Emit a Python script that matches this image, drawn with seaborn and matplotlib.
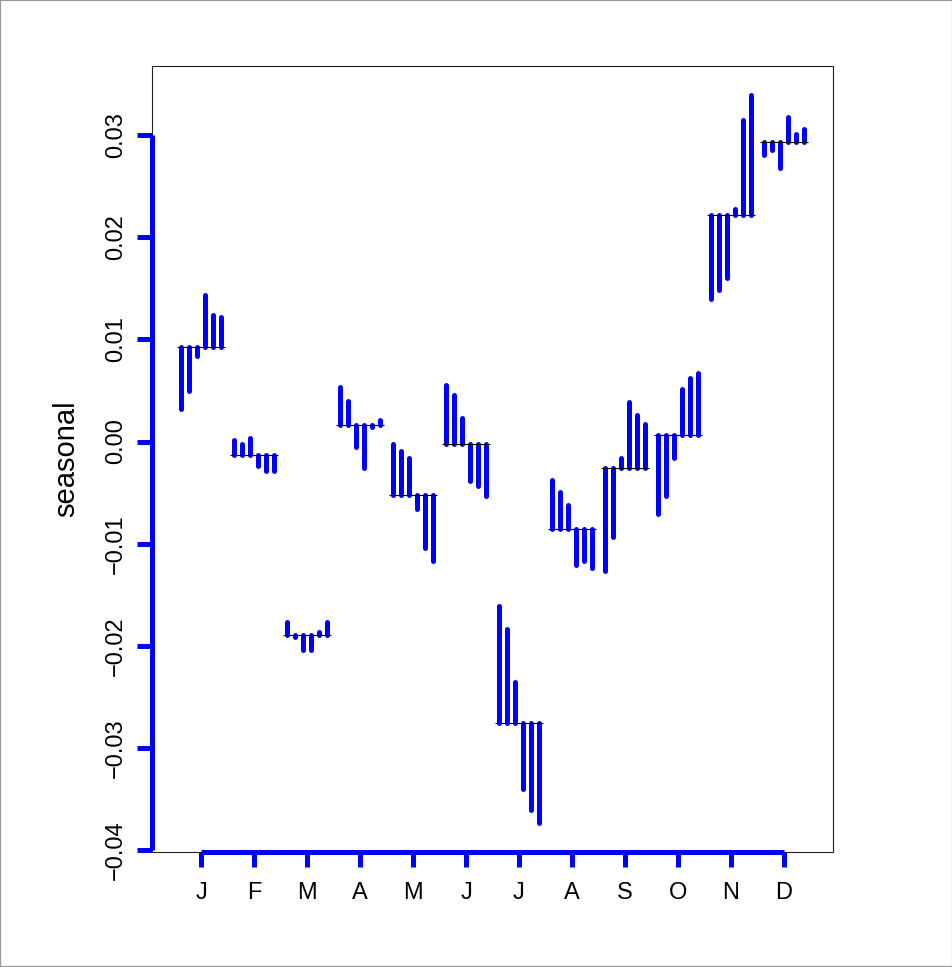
import numpy as np
import pandas as pd
import matplotlib
matplotlib.use("Agg")
import matplotlib.pyplot as plt
import seaborn as sns
from matplotlib.patches import Rectangle

# ---- data (seasonal component, 6 years per month) ----
month_labels = ["J", "F", "M", "A", "M", "J", "J", "A", "S", "O", "N", "D"]
jan = [0.0032, 0.0049, 0.0084, 0.0143, 0.0124, 0.0122]
feb = [0.00016, -0.00023, 0.00036, -0.00237, -0.0029, -0.0029]
mar = [-0.01765, -0.01912, -0.02043, -0.02043, -0.01863, -0.01765]
apr = [0.00538, 0.00398, -0.00055, -0.00257, 0.0014, 0.00208]
may = [-0.0002, -0.00095, -0.0016, -0.00662, -0.0104, -0.01171]
jun = [0.00558, 0.00453, 0.00228, -0.00384, -0.00437, -0.00535]
jul = [-0.0161, -0.01838, -0.02353, -0.03404, -0.03609, -0.0373]
aug = [-0.00379, -0.00493, -0.00624, -0.01211, -0.01165, -0.01236]
sep = [-0.01266, -0.00937, -0.0016, 0.00391, 0.00261, 0.00176]
oct_ = [-0.00714, -0.00538, -0.00166, 0.00512, 0.00626, 0.00675]
nov = [0.0140, 0.01482, 0.01603, 0.02281, 0.03149, 0.03394]
dec = [0.02803, 0.02852, 0.0268, 0.03172, 0.03015, 0.03064]
y_ticks = [-0.04, -0.03, -0.02, -0.01, 0.00, 0.01, 0.02, 0.03]

series = [jan, feb, mar, apr, may, jun, jul, aug, sep, oct_, nov, dec]
rows = []
for m, vals in enumerate(series, start=1):
    for yr, v in enumerate(vals):
        rows.append({"month": m, "year": yr, "value": v})
df = pd.DataFrame(rows)
n_years = df["year"].nunique()
offsets = np.linspace(-0.385, 0.385, n_years)
df["x"] = df["month"] + offsets[df["year"].to_numpy()]
base = df.groupby("month")["value"].mean()
df["base"] = df["month"].map(base)

# ---- style ----
sns.set_theme(style="white")
plt.rcParams["font.family"] = ["Liberation Sans", "DejaVu Sans"]

W, H = 953, 967
fig = plt.figure(figsize=(W / 100, H / 100), dpi=100)
fig.patch.set_facecolor("white")
left, right, top, bottom = 152, 833, 65.7, 851.7
ax = fig.add_axes([left / W, 1 - bottom / H, (right - left) / W, (bottom - top) / H])
ax.set_facecolor("white")

blue = "#0000FF"
lwb = 3.6

ax.vlines(df["x"], df["base"], df["value"], colors=blue, linewidth=lwb,
          capstyle="round", zorder=2)
months = np.arange(1, 13)
ax.hlines(base.values, months - 0.45, months + 0.45, colors="black",
          linewidth=0.8, zorder=3)

# limits like R: range extended by 4%
nm = len(month_labels)
xr = (0.55, nm + 0.45)
ext = 0.04 * (xr[1] - xr[0])
ax.set_xlim(xr[0] - ext, xr[1] + ext)
vmin, vmax = df["value"].min(), df["value"].max()
ye = 0.04 * (vmax - vmin)
ax.set_ylim(vmin - ye, vmax + ye)

# axes (R style: blue axis lines spanning ticks)
for s in ["top", "right"]:
    ax.spines[s].set_visible(False)
for s in ["left", "bottom"]:
    ax.spines[s].set_color(blue)
    ax.spines[s].set_linewidth(lwb)
    ax.spines[s].set_capstyle("butt")
ax.spines["left"].set_bounds(y_ticks[0], y_ticks[-1])
ax.spines["bottom"].set_bounds(1, nm)
ax.add_patch(Rectangle((0, 0), 1, 1, transform=ax.transAxes, fill=False,
                       edgecolor="#222222", linewidth=0.8, clip_on=False, zorder=1))

ax.set_xticks(months)
ax.set_xticklabels(month_labels)
ax.set_yticks(y_ticks)
ax.set_yticklabels([f"{t:.2f}".replace("-", "\u2212") for t in y_ticks])
ax.tick_params(axis="both", which="major", direction="out", color=blue,
               width=lwb, length=11, labelsize=17, labelcolor="black",
               left=True, bottom=True)
ax.tick_params(axis="x", pad=11)
ax.tick_params(axis="y", pad=7)
for lab in ax.get_yticklabels():
    lab.set_rotation(90)
    lab.set_va("center")
ax.grid(False)

ax.set_ylabel("seasonal", fontsize=21, color="black", labelpad=18)
ax.set_xlabel("")

fig.add_artist(Rectangle((0, 0), 1, 1, transform=fig.transFigure, fill=False,
                         edgecolor="#999999", linewidth=1.6))

fig.savefig("out.png", dpi=100, facecolor="white")
